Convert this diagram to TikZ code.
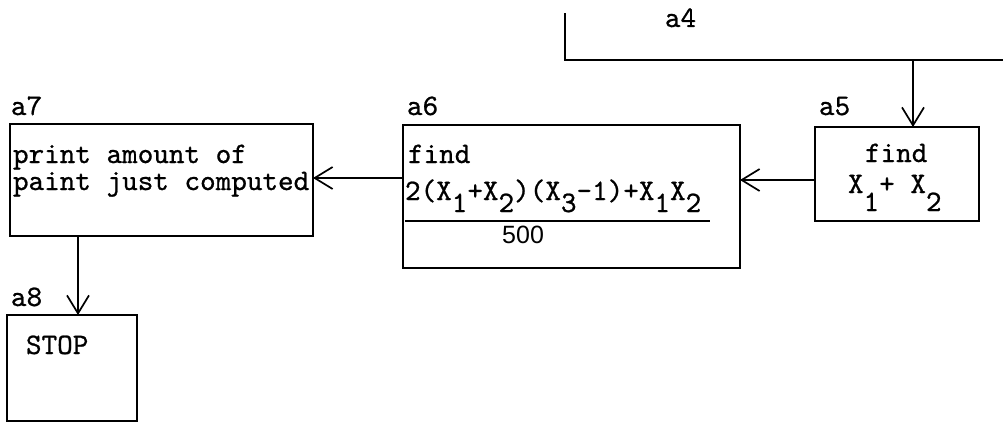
\documentclass[tikz,border=0pt]{standalone}
\usepackage{fontspec}
\newfontfamily\digitsans{Liberation Sans}
\newfontfamily\twfont{lmmono10-regular.otf}[FakeBold=0.8]
\usetikzlibrary{arrows.meta}
\newcommand\tw{\twfont\fontsize{29.7}{31}\selectfont}
\newcommand\sub[2][12pt]{\raisebox{-#1}{#2}}
\tikzset{
  box/.style={draw, line width=2.7pt, inner sep=0pt, outer sep=0pt},
  txt/.style={anchor=base west, inner sep=0pt, outer sep=0pt, font=\tw},
  lbl/.style={anchor=base west, inner sep=0pt, outer sep=0pt, font=\tw},
  arr/.style={line width=1.7pt, -{Straight Barb[length=18pt,width=22pt,line width=1.7pt]}},
}
\begin{document}
\begin{tikzpicture}[x=1pt,y=-1pt]
\useasboundingbox (0,0) rectangle (1003,423);
% a4 (partial box)
\draw[line width=2.5pt] (565,13) -- (565,60) -- (1003,60);
\node[lbl] (la4) at (665,27) {a4};
\coordinate (a4b) at (913,60);
% boxes
\node[box, minimum width=164pt, minimum height=94pt] (a5) at (897,174) {};
\node[box, minimum width=337pt, minimum height=143pt] (a6) at (571.5,196.5) {};
\node[box, minimum width=303pt, minimum height=112pt] (a7) at (161.5,180) {};
\node[box, minimum width=130pt, minimum height=106pt] (a8) at (72,368) {};
% labels
\node[lbl] (la5) at (819,115) {a5};
\node[lbl] (la6) at (407,115) {a6};
\node[lbl] (la7) at (11,115) {a7};
\node[lbl] (la8) at (11,306) {a8};
% a5 text
\node[txt] (t5a) at (865,162) {find};
\node[txt] (t5b) at (848,193) {X\sub[18pt]{1}+ X\sub[18pt]{2}};
% a6 text
\node[txt] (t6a) at (408,163) {find};
\node[txt] (t6b) at (405,200) {2(X\sub{1}+X\sub{2})(X\sub{3}-1)+X\sub{1}X\sub{2}};
\draw[line width=2.2pt] (405,221) -- (710,221);
\node[anchor=base west, inner sep=0pt, font=\digitsans\fontsize{25}{26}\selectfont] (t6c) at (502,243) {500};
% a7 text
\node[txt] (t7a) at (13,163) {print amount of};
\node[txt] (t7b) at (13,190) {paint just computed};
% a8 text
\node[txt] (t8) at (26,354) {STOP};
% connectors
\coordinate (y56) at (0,180);
\coordinate (y67) at (0,178);
\draw[arr] (a4b) -- (a4b |- a5.north);
\draw[arr] (y56 -| a5.west) -- (y56 -| a6.east);
\draw[arr] (y67 -| a6.west) -- (y67 -| a7.east);
\coordinate (x78) at (78,0);
\draw[arr] (x78 |- a7.south) -- (x78 |- a8.north);
\end{tikzpicture}
\end{document}
